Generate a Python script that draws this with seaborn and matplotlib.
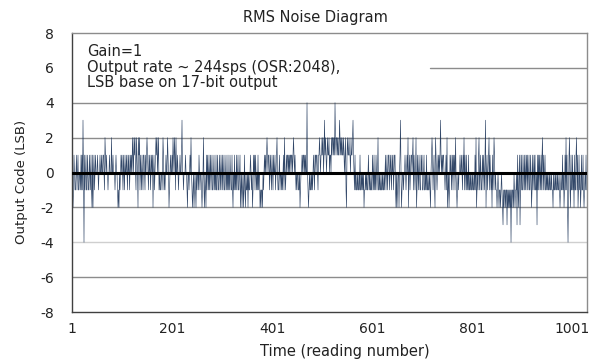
import numpy as np
import pandas as pd
import matplotlib
matplotlib.use("Agg")
import matplotlib.pyplot as plt
import seaborn as sns

# Output code (LSB) per reading in blocks of 100 readings
block_0001 = [1, -1, -2, -1, 1, 0, -1, -1, 0, 1,
              -1, 0, 1, -1, -1, 0, 0, -1, 1, -1,
              1, -1, 3, 0, -4, 1, -1, 0, 1, -1,
              -1, 1, 0, -1, -1, 1, 0, -1, 1, -1,
              -2, 1, -2, 0, 1, -1, 0, 1, 0, 0,
              0, 1, 0, -1, 0, 0, 1, 0, 0, 1,
              0, 0, 1, 1, 0, -1, 2, 1, 0, 1,
              0, 0, -1, 0, 0, 1, 0, 0, 0, 2,
              0, 0, 1, 0, 0, 0, -1, 0, 1, 0,
              0, -1, -2, -1, -2, 0, -1, 0, 1, 0]
block_0101 = [1, 0, -1, 1, 0, -1, 1, 0, 0, 1,
              0, -1, 1, 0, 1, -1, 0, 1, 0, 1,
              0, 2, 1, 0, 2, 1, 2, 0, -1, 2,
              1, 0, -2, 2, 1, 2, -1, 1, 0, -1,
              1, 0, -1, 1, 1, 0, -1, 1, 0, 1,
              2, 1, 0, -1, 1, 0, 1, -1, 0, 1,
              0, 1, -2, 0, 1, -1, 0, 1, 2, 1,
              2, 0, 1, 2, -1, 0, -1, -1, 0, 0,
              -1, 0, 2, 1, -1, 0, -1, 0, 1, 0,
              0, 2, 1, 0, -2, -1, 0, 1, 0, 0]
block_0201 = [1, 0, 2, 1, 0, 2, 1, -1, 2, 0,
              0, 1, 0, -1, 0, 0, 1, 0, 0, 1,
              3, 0, 0, -1, 0, 0, 0, 1, 0, 0,
              -1, -2, 0, 0, -1, 0, 1, 0, 2, 0,
              -1, -2, -1, 0, -2, -1, 0, -1, -2, 0,
              -1, 0, 0, -1, 1, 0, -1, 0, 0, -1,
              -2, -1, 0, 2, -1, -2, 0, -1, -2, 1,
              -1, 1, 0, -1, 1, -1, 0, 1, -1, 0,
              1, -1, -1, 0, 1, -1, 0, -1, 1, -1,
              -1, 1, 0, -1, -1, 1, 0, -1, 1, 0]
block_0301 = [-1, 1, -1, 0, 1, -1, -1, 0, 1, -1,
              0, -1, 1, -1, 0, -1, 1, 0, -1, -1,
              1, -1, -2, 0, -1, 1, -1, 0, -1, 1,
              -1, 0, 1, -1, -1, 0, 1, -2, -1, 0,
              -2, -1, 0, -2, -1, 1, -1, -2, 0, -1,
              -1, 0, -2, 0, -1, -1, 0, 1, 0, -1,
              0, -2, -1, 1, 0, 1, -1, 1, 0, -1,
              0, -1, 1, -1, 0, 0, -2, -1, -2, -1,
              -1, -2, 0, -1, 0, 1, 0, 1, 0, 1,
              2, 1, 0, 1, 1, -1, 0, 1, 0, -1]
block_0401 = [1, 0, -1, 1, 0, 0, 1, -1, 0, 1,
              2, 0, -1, -1, 0, 1, -1, 0, 0, -1,
              0, -1, 0, 1, -1, 2, 0, -1, 0, 1,
              0, 1, 1, 0, 1, 0, 1, 1, 0, 1,
              1, 0, 1, 2, 1, 0, 1, 0, -1, 0,
              -1, 0, 0, -1, -1, 0, -2, -1, 0, 0,
              1, 0, 1, 1, 0, 1, 0, 1, 0, 0,
              4, 0, -1, -2, -1, 0, -1, -1, 0, -1,
              0, -1, 0, 1, 0, -1, 1, 1, 0, 1,
              1, 0, -1, 1, 1, 2, 1, 0, 1, 1]
block_0501 = [2, 1, 2, 0, 1, 3, 1, 2, 1, 0,
              1, 2, 1, 1, 2, 0, 1, 1, 0, 2,
              1, 2, 2, 1, 2, 1, 4, 2, 1, 2,
              2, 1, 2, 1, 1, 3, 2, 1, 2, 1,
              2, 1, 1, 2, 1, 0, 1, 2, -1, -2,
              1, 2, 1, 1, 2, 1, 1, 0, 2, 1,
              1, 2, 3, 1, 0, -1, 1, -1, 0, -1,
              -1, 0, -1, -1, 0, -1, 1, -1, -1, 0,
              -1, 0, -1, 0, -2, -1, -1, 0, -1, 0,
              -1, -1, 0, 1, -1, 0, -1, -1, 0, -1]
block_0601 = [-1, 1, 0, -1, 1, -1, 0, -1, 1, 0,
              -1, 0, 2, -1, -1, 0, -1, -1, 0, -1,
              -1, 0, -1, -1, 0, -1, 0, 1, -1, 0,
              1, -1, 0, 1, 1, -1, 0, 1, 0, -1,
              1, 0, 1, -1, 0, 1, 1, -1, -2, 0,
              -2, -1, 0, 0, -2, 0, 1, 3, 0, -2,
              -1, 0, 0, -1, 0, 0, 1, 0, -1, 0,
              1, 0, 2, -2, 0, 1, -1, 0, 1, 1,
              0, 1, 2, -1, 1, 0, -1, 0, 2, -2,
              -1, 1, 0, -1, 1, 0, -1, -1, 1, 0]
block_0701 = [1, -1, -1, 0, 1, -1, -1, 0, -1, 1,
              -1, -1, 0, -1, -1, 0, -1, -2, 0, 1,
              2, 1, -1, 0, 1, -1, -2, 2, 1, 0,
              -1, 0, 1, 0, 1, 0, 1, 3, 1, 0,
              1, 0, 1, 1, 0, 0, -1, 0, 1, -1,
              2, -2, -1, 0, -2, -1, 1, 0, 1, -1,
              0, 1, -1, 1, 0, 1, -1, 2, 0, -1,
              -2, -1, 0, -1, 0, 0, 1, 0, 0, 1,
              0, -1, 1, 0, 2, -1, 1, 0, -1, 1,
              -1, 0, -1, 1, -1, -1, 0, -1, 0, -1]
block_0801 = [-1, 0, -1, -1, 0, -1, 1, -1, 2, -2,
              -1, 0, -1, 1, 2, -1, 0, 1, -1, -1,
              0, 1, -1, 1, 0, -1, 1, 3, -2, 0,
              1, -1, 0, 1, 2, -1, 1, 0, -1, 0,
              -2, 1, -1, 0, 2, 1, -1, 0, -1, -1,
              -2, -1, 0, -1, -2, -1, -1, -2, -1, 0,
              -1, -2, -3, -1, -2, -1, -1, -2, -1, -1,
              -3, -1, -2, -1, -2, -1, -2, -1, -4, -1,
              -2, -1, -1, -2, 0, -1, -2, -1, -1, 0,
              -3, 1, -1, -2, 0, 1, -3, -1, 1, -1]
block_0901 = [1, -1, -1, 0, 1, -1, 1, -1, 0, 1,
              -1, 1, -1, 0, 1, -1, -1, 1, 0, -2,
              -1, 1, -1, 0, 1, -1, 1, -1, -1, 0,
              -3, 1, -1, 1, -1, 1, 0, -1, 1, -1,
              1, 2, -1, 1, -1, 0, 1, -1, -1, 0,
              -1, 0, -1, -1, 0, -1, 0, -1, -1, 0,
              -1, -1, -2, 0, -1, -1, 0, -1, 0, -1,
              -1, 0, -1, -1, 0, -1, -2, -1, 0, -1,
              -1, 1, -1, 0, -2, -1, 1, -1, 2, -1,
              1, -2, -4, -1, 1, 2, -1, -2, 1, -1]
block_1001 = [-1, 1, -1, 0, -2, 1, -1, -1, 1, 2,
              -1, 1, -2, -1, 1, -1, 0, -2, -1, 1,
              -1, -1, 1, -1, -2, -1, 0, -1, 1, -1]

x_ticks = [1, 201, 401, 601, 801, 1001]
y_ticks = [-8, -6, -4, -2, 0, 2, 4, 6, 8]
note = "Gain=1\nOutput rate ~ 244sps (OSR:2048),\nLSB base on 17-bit output"

codes = (block_0001 + block_0101 + block_0201 + block_0301 + block_0401 +
         block_0501 + block_0601 + block_0701 + block_0801 + block_0901 +
         block_1001)
df = pd.DataFrame({"reading": np.arange(1, len(codes) + 1), "code": codes})

sns.set_style("white")
plt.rcParams["font.family"] = ["DejaVu Sans"]
plt.rcParams["axes.unicode_minus"] = False

fig = plt.figure(figsize=(6.04, 3.62), dpi=100)
ax = fig.add_axes([0.1192, 0.1381, 0.8527, 0.7707])

# grid lines (the one at 6 is partly hidden behind the note)
for yv in [4, 2, -2, -6]:
    ax.axhline(yv, color="#8c8c8c", lw=1, zorder=0)
ax.axhline(-4, color="#cfcfcf", lw=1, zorder=0)
ax.axhline(6, xmin=0.695, xmax=1, color="#8c8c8c", lw=1, zorder=0)

sns.lineplot(data=df, x="reading", y="code", ax=ax, estimator=None,
             color="#1b3358", lw=0.45, alpha=0.9, zorder=2)
ax.axhline(0, color="black", lw=2.2, zorder=3)

ax.set_xlim(1, 1031)
ax.set_ylim(-8, 8)
ax.set_xticks(x_ticks)
ax.set_yticks(y_ticks)
ax.tick_params(axis="both", length=0, labelsize=10, colors="#222222")
ax.tick_params(axis="y", pad=13)
ax.tick_params(axis="x", pad=7)

for side in ["left", "bottom"]:
    ax.spines[side].set_color("#404040")
    ax.spines[side].set_linewidth(1)
for side in ["top", "right"]:
    ax.spines[side].set_color("#8c8c8c")
    ax.spines[side].set_linewidth(1)

ax.text(0.029, 0.96, note, transform=ax.transAxes, fontsize=10.5,
        va="top", ha="left", color="#222222", linespacing=1.05)

ax.set_title("RMS Noise Diagram", fontsize=10.5, pad=8, color="#222222",
             x=0.473)
ax.set_xlabel("Time (reading number)", fontsize=10.5, labelpad=7,
              color="#222222")
ax.xaxis.set_label_coords(0.529, -0.115)
ax.set_ylabel("Output Code (LSB)", fontsize=9.5, color="#222222")
ax.yaxis.set_label_coords(-0.085, 0.466)

fig.savefig("out.png", dpi=100)
